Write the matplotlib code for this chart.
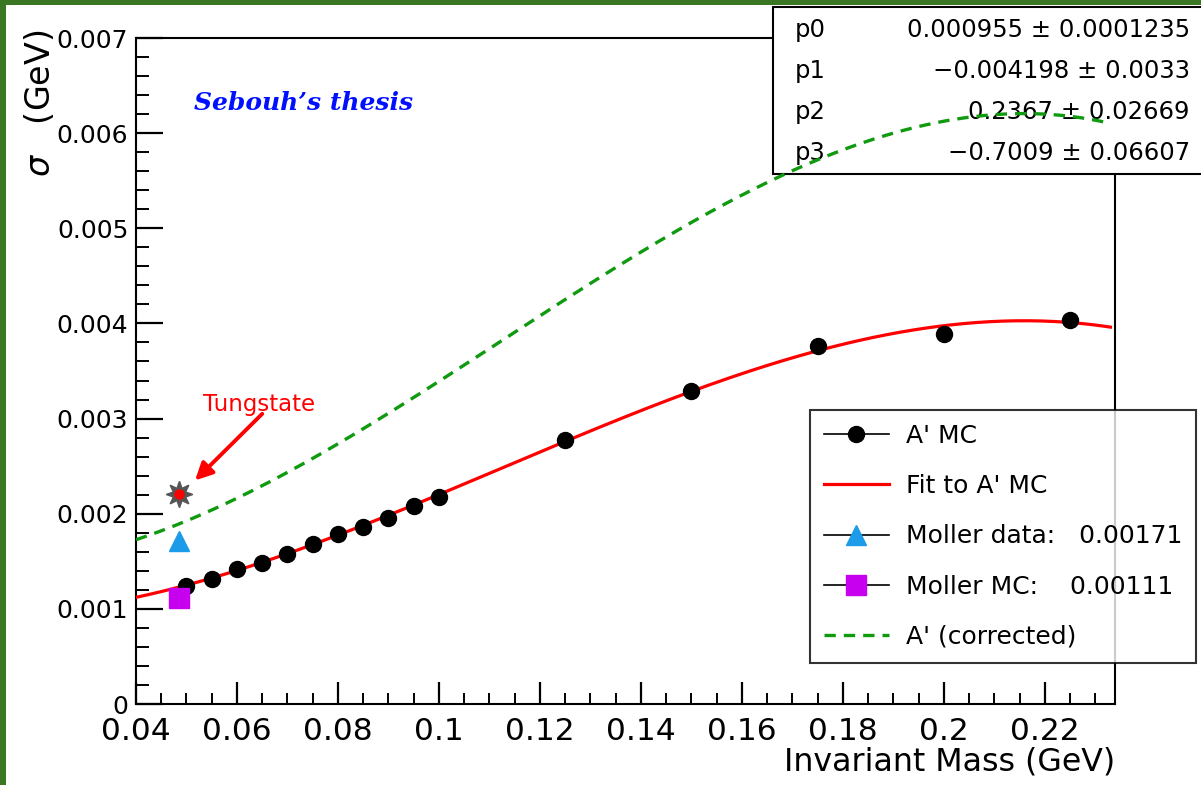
import numpy as np
import matplotlib.pyplot as plt
from matplotlib.lines import Line2D
from matplotlib.patches import Rectangle
from matplotlib.ticker import MultipleLocator

# A' MC resolution points
mass = [0.05, 0.055, 0.06, 0.065, 0.07, 0.075, 0.08, 0.085, 0.09, 0.095,
        0.1, 0.125, 0.15, 0.175, 0.2, 0.225]
sigma = [0.00124, 0.001316, 0.00142, 0.001484, 0.00158, 0.00168, 0.00179,
         0.00186, 0.00195, 0.00208, 0.00218, 0.00278, 0.00329, 0.00376,
         0.00389, 0.00404]

# cubic fit parameters p0..p3 and their errors
fit_par = [0.000955, -0.004198, 0.2367, -0.7009]
fit_err = [0.0001235, 0.0033, 0.02669, 0.06607]
fit_par_txt = ["0.000955", "\u22120.004198", "0.2367", "\u22120.7009"]
fit_err_txt = ["0.0001235", "0.0033", "0.02669", "0.06607"]

# Moller peak and tungstate point
moller_mass = 0.0485
moller_data = 0.00171
moller_mc = 0.00111
tungstate = 0.00221

x_ticks = [0.04, 0.06, 0.08, 0.1, 0.12, 0.14, 0.16, 0.18, 0.2, 0.22]
x_labels = ["0.04", "0.06", "0.08", "0.1", "0.12", "0.14", "0.16", "0.18", "0.2", "0.22"]
y_ticks = [0, 0.001, 0.002, 0.003, 0.004, 0.005, 0.006, 0.007]
y_labels = ["0", "0.001", "0.002", "0.003", "0.004", "0.005", "0.006", "0.007"]

x_range = (0.04, 0.2339)
fit_range = (0.04, 0.233)

RED = "#ff0000"
GREEN = "#109a10"
BLUE = "#1c9be8"
VIOLET = "#c800f0"
BORDER = "#3b7622"

fig = plt.figure(figsize=(12.01, 7.85), dpi=100)
W, H = 1201, 785
ax = fig.add_axes([136 / W, 1 - 704 / H, 979 / W, 666 / H])

xf = np.linspace(fit_range[0], fit_range[1], 300)
fit_curve = sum(p * xf ** i for i, p in enumerate(fit_par))
corr_curve = fit_curve * (moller_data / moller_mc)

ax.plot(xf, fit_curve, color=RED, lw=2.3, zorder=5)
ax.plot(mass, sigma, "o", color="black", ms=11.5, zorder=6)
ax.plot(xf, corr_curve, color=GREEN, lw=2.4, ls=(0, (3.4, 2.4)), zorder=8)

ax.plot([moller_mass], [moller_data], "^", color=BLUE, ms=15, zorder=6)
ax.plot([moller_mass], [moller_mc], "s", color=VIOLET, ms=14, zorder=6)
ax.plot([moller_mass], [tungstate], marker=(8, 1, 0), color="#555555", ms=19, ls="none", zorder=6)
ax.plot([moller_mass], [tungstate], "o", color=RED, ms=6.5, zorder=7)

ax.annotate("", xy=(0.0517, 0.00235), xytext=(0.0650, 0.00305),
            arrowprops=dict(arrowstyle="-|>", color=RED, lw=2.8,
                            mutation_scale=26, shrinkA=0, shrinkB=0), zorder=7)
ax.text(0.0533, 0.00315, "Tungstate", color=RED, fontsize=16.5, ha="left", va="center")

ax.text(0.0515, 0.00632, "Sebouh\u2019s thesis", color="#0010ff", fontsize=18,
        family="DejaVu Serif", style="italic", weight="bold", va="center")

ax.set_xlim(*x_range)
ax.set_ylim(0, 0.007)
ax.set_xticks(x_ticks)
ax.set_xticklabels(x_labels)
ax.set_yticks(y_ticks)
ax.set_yticklabels(y_labels)
ax.xaxis.set_minor_locator(MultipleLocator(0.005))
ax.yaxis.set_minor_locator(MultipleLocator(0.0002))
ax.tick_params(axis="x", which="major", direction="in", length=16, width=1.6,
               labelsize=22.5, pad=9, top=False)
ax.tick_params(axis="x", which="minor", direction="in", length=8, width=1.4, top=False)
ax.tick_params(axis="y", which="major", direction="in", length=19.5, width=1.6,
               labelsize=18, pad=5.5, right=False)
ax.tick_params(axis="y", which="minor", direction="in", length=9.5, width=1.4, right=False)
for s in ax.spines.values():
    s.set_linewidth(1.5)

fig.text(1115 / W, 1 - 762 / H, "Invariant Mass (GeV)", fontsize=22.8, ha="right", va="center")
fig.text(40 / W, 1 - 30 / H, r"$\sigma$   (GeV)", fontsize=24, rotation=90, ha="center", va="top")

# fit parameter box (sits over the frame, under the corrected curve)
box = Rectangle((773 / W, 1 - 174 / H), 440 / W, 167 / H, transform=fig.transFigure,
                facecolor="white", edgecolor="black", lw=1.5, zorder=3, clip_on=False)
ax.add_patch(box)
for i in range(4):
    yc = 1 - (30 + 41 * i) / H
    ax.text(795 / W, yc, f"p{i}", transform=fig.transFigure, fontsize=17.5,
            va="center", ha="left", zorder=4, clip_on=False)
    ax.text(1190 / W, yc, f"{fit_par_txt[i]} \u00b1 {fit_err_txt[i]}", transform=fig.transFigure,
            fontsize=17.5, va="center", ha="right", zorder=4, clip_on=False)

handles = [
    Line2D([], [], color="black", lw=1.2, marker="o", ms=11.5),
    Line2D([], [], color=RED, lw=2.3),
    Line2D([], [], color="black", lw=1.2, marker="^", ms=15, mfc=BLUE, mec=BLUE),
    Line2D([], [], color="black", lw=1.2, marker="s", ms=14, mfc=VIOLET, mec=VIOLET),
    Line2D([], [], color=GREEN, lw=2.4, ls=(0, (3.4, 2.4))),
]
labels = ["A' MC", "Fit to A' MC", "Moller data:   0.00171",
          "Moller MC:    0.00111", "A' (corrected)"]
leg = ax.legend(handles, labels, loc="upper left", bbox_to_anchor=(810 / W, 1 - 410 / H),
                bbox_transform=fig.transFigure, fontsize=18, frameon=True, fancybox=False,
                borderpad=0.55, labelspacing=1.05, handlelength=2.6, handletextpad=0.7,
                borderaxespad=0)
leg.get_frame().set_edgecolor("black")
leg.get_frame().set_linewidth(1.5)
leg.set_zorder(9)

# outer green frame
fig.patches.append(Rectangle((0, 1 - 5 / H), 1, 5 / H, transform=fig.transFigure,
                             facecolor=BORDER, edgecolor="none", zorder=10))
fig.patches.append(Rectangle((0, 0), 6 / W, 1, transform=fig.transFigure,
                             facecolor=BORDER, edgecolor="none", zorder=10))

fig.savefig("out.png", dpi=100)
